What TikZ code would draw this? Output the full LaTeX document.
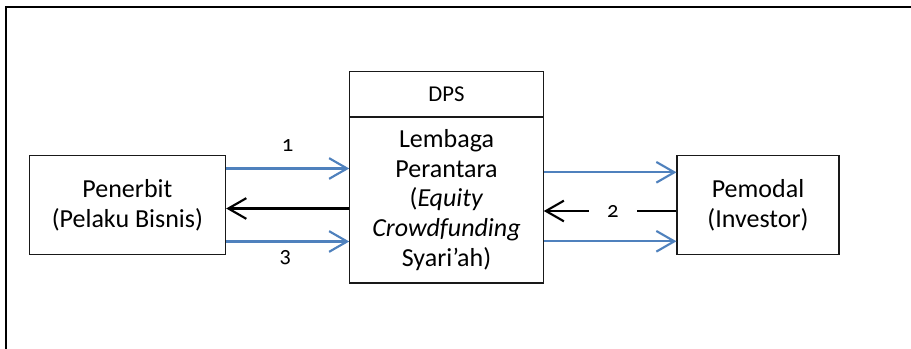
\documentclass[tikz,border=0pt]{standalone}
\usepackage{fontspec}
\setmainfont{Carlito}[Numbers=OldStyle]
\usetikzlibrary{arrows.meta}
\definecolor{arrblue}{RGB}{79,129,189}
\tikzset{
  boxstyle/.style={draw=black!90, line width=0.8pt, align=center, inner sep=0pt,
    font=\fontsize{19.5}{22.2}\selectfont},
  flowarrow/.style={line width=1.6pt, -{Straight Barb[length=13.5pt,width=15.5pt,line width=1.6pt]}},
  bluearrow/.style={flowarrow, draw=arrblue},
  blackarrow/.style={flowarrow, draw=black},
  numlabel/.style={font=\fontsize{17}{19}\selectfont, inner sep=0pt},
  frameline/.style={line width=1.6pt, draw=black}
}
\begin{document}
\begin{tikzpicture}[x=0.75pt,y=-0.75pt]
\useasboundingbox (0,0) rectangle (911,349);
% frame
\coordinate (fa) at (911,7);
\coordinate (fb) at (6,7);
\coordinate (fc) at (6,349);
\draw[frameline] (fa) -- (fb) -- (fc);
% boxes
\node[boxstyle, minimum width=147.4pt, minimum height=74.25pt] (pen) at (127.4,205.2)
  {Penerbit\\(Pelaku Bisnis)};
\node[boxstyle, minimum width=145.1pt, minimum height=34.3pt, font=\fontsize{17}{19}\selectfont] (dps) at (446.5,94.2) {DPS};
\node[boxstyle, minimum width=145.1pt, minimum height=124.5pt] (lem) at (446.5,200)
  {Lembaga\\Perantara\\(\textit{Equity}\\\textit{Crowdfunding}\\Syari’ah)};
\node[boxstyle, minimum width=121.5pt, minimum height=74.25pt] (pem) at (758,205.2)
  {Pemodal\\(Investor)};
% arrow levels
\coordinate (l1) at (0,168.5);
\coordinate (l2) at (0,208.5);
\coordinate (l3) at (0,241.5);
\coordinate (r1) at (0,172.3);
\coordinate (r2) at (0,211);
\coordinate (r3) at (0,241.3);
% left arrows
\draw[bluearrow] (pen.east |- l1) -- node[numlabel, pos=0.5, above=12pt] {1} (lem.west |- l1);
\draw[blackarrow] (lem.west |- l2) -- (pen.east |- l2);
\draw[bluearrow] (pen.east |- l3) -- node[numlabel, pos=0.48, below=6pt] {3} (lem.west |- l3);
% right arrows
\draw[bluearrow] (lem.east |- r1) -- (pem.west |- r1);
\draw[blackarrow] (pem.west |- r2) -- node[numlabel, pos=0.48, fill=white, minimum width=36pt, minimum height=12pt] {2} (lem.east |- r2);
\draw[bluearrow] (lem.east |- r3) -- (pem.west |- r3);
\end{tikzpicture}
\end{document}
